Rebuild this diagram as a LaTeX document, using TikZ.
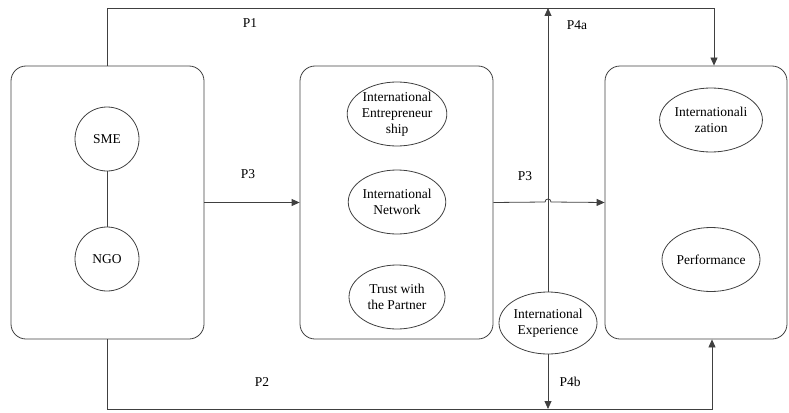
\documentclass[tikz,border=0pt]{standalone}
\usepackage{fontspec}
\setmainfont{Liberation Serif}
\newfontfamily\tnr{Liberation Serif}
\usetikzlibrary{arrows.meta,shapes.geometric}
\begin{document}
\begin{tikzpicture}[x=1pt,y=-1pt,
  every node/.style={font=\tnr\fontsize{13.5}{16}\selectfont, text=black},
  line/.style={draw=black!75, line width=0.8pt},
  arr/.style={line, -{Triangle[length=8pt,width=7pt]}},
  group/.style={line, rounded corners=15pt, minimum height=273pt, inner sep=0pt},
  oval/.style={line, ellipse, minimum width=98pt, minimum height=64pt, inner sep=0pt, align=center},
  circ/.style={line, circle, minimum size=64pt, inner sep=0pt},
  lbl/.style={inner sep=0pt}]
\useasboundingbox (0,0) rectangle (789,412);

% group boxes
\node[group, minimum width=193pt] (L) at (107.5,202.5) {};
\node[group, minimum width=193pt] (M) at (396.5,202.5) {};
\node[group, minimum width=182pt] (R) at (696,202.5) {};

% left contents
\node[circ] (sme) at (107,139) {SME};
\node[circ] (ngo) at (107,259) {NGO};
\draw[line] (sme) -- (ngo);

% middle contents
\node[oval, minimum width=96pt] (ie) at (397,114) {International\\Entrepreneur\\ship};
\node[oval, minimum width=96pt] (in) at (397,202) {International\\Network};
\node[oval, minimum width=96pt] (tp) at (397,297) {Trust with\\the Partner};

% right contents
\node[oval] (iz) at (711,120) {Internationali\\zation};
\node[oval] (pf) at (711,259.5) {Performance};

% moderator
\node[oval, minimum height=62pt] (ex) at (548,323) {International\\Experience};

% coordinates
\coordinate (t1) at (714,8);
\coordinate (b2) at (712,409);
\coordinate (top) at (548,8);
\coordinate (h1) at (545,202);
\coordinate (h2) at (551,202);

% P1
\draw[arr] (L.north) |- (t1) -- (t1 |- R.north);
% P2
\draw[arr] (L.south) |- (b2) -- (b2 |- R.south);
% P3
\draw[arr] (L.east) -- (M.west);
\draw[arr] (M.east) -- (h1) .. controls (545,198) and (551,198) .. (h2) -- (R.west);
% P4a / P4b
\draw[arr] (ex.north) -- (top);
\draw[arr] (ex.south) -- (ex.south |- b2);

% labels
\node[lbl] (lp1) at (250,23) {P1};
\node[lbl] (lp2) at (262,382) {P2};
\node[lbl] (lp3a) at (248,174) {P3};
\node[lbl] (lp3b) at (525,176) {P3};
\node[lbl] (lp4a) at (577,25) {P4a};
\node[lbl] (lp4b) at (570,382) {P4b};
\end{tikzpicture}
\end{document}
